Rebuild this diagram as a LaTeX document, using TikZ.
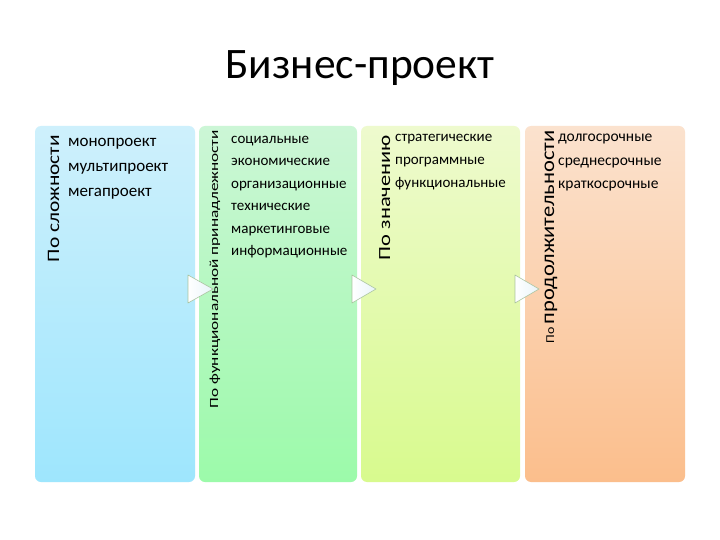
\documentclass[tikz,border=0pt]{standalone}
\usepackage{fontspec}
\setmainfont{Carlito}
\begin{document}
\begin{tikzpicture}[x=1pt,y=-1pt,
  panel/.style={rounded corners=6pt, draw=none},
  head/.style={rotate=90, anchor=base east, inner sep=0pt},
  item/.style={anchor=base west, inner sep=0pt},
  tri/.style={draw={rgb,255:red,170;green,196;blue,160}, left color=white, right color={rgb,255:red,232;green,244;blue,250}, line width=0.6pt, line join=round}]
\useasboundingbox (0,0) rectangle (720,540);
\fill[white] (0,0) rectangle (720,540);
\node[anchor=base, inner sep=0pt] (title) at (360,79) {\fontsize{43.5}{43.5}\selectfont Бизнес-проект};
% panels
\path[panel, top color={rgb,255:red,206;green,240;blue,252}, bottom color={rgb,255:red,158;green,230;blue,253}] (35,126) rectangle (195,482);
\path[panel, top color={rgb,255:red,204;green,246;blue,214}, bottom color={rgb,255:red,156;green,250;blue,170}] (199,126) rectangle (357,482);
\path[panel, top color={rgb,255:red,238;green,250;blue,206}, bottom color={rgb,255:red,216;green,250;blue,142}] (361,126) rectangle (520,482);
\path[panel, top color={rgb,255:red,251;green,226;blue,206}, bottom color={rgb,255:red,251;green,190;blue,140}] (525,126) rectangle (685,482);
% triangles
\path[tri] (188,275) -- (213,289) -- (188,303) -- cycle;
\path[tri] (352,275) -- (376,289) -- (352,303) -- cycle;
\path[tri] (515,275) -- (539,289) -- (515,303) -- cycle;
% headings
\node[head] (h1) at (59,135) {\fontsize{17.5}{17.5}\selectfont\resizebox{127pt}{\height}{По сложности}};
\node[head] (h2) at (218,130) {\fontsize{12.5}{12.5}\selectfont\resizebox{278pt}{\height}{По функциональной принадлежности}};
\node[head] (h3) at (390,135) {\fontsize{17}{17}\selectfont\resizebox{125pt}{\height}{По значению}};
\node[head] (h4) at (554,130) {\resizebox{213pt}{\height}{\fontsize{12}{12}\selectfont По \fontsize{19.5}{19.5}\selectfont продолжительности}};
% items
\begin{scope}[every node/.style={item, font=\fontsize{17}{17}\selectfont}]
\node (i1a) at (68,146.5) {монопроект};
\node (i1b) at (68,171.5) {мультипроект};
\node (i1c) at (68,196.5) {мегапроект};
\end{scope}
\begin{scope}[every node/.style={item, font=\fontsize{15}{15}\selectfont}]
\node (i2a) at (231,143.5) {социальные};
\node (i2b) at (231,165.8) {экономические};
\node (i2c) at (231,188.3) {организационные};
\node (i2d) at (231,210.8) {технические};
\node (i2e) at (231,233.3) {маркетинговые};
\node (i2f) at (231,255.8) {информационные};
\node (i3a) at (395,141.5) {стратегические};
\node (i3b) at (395,165) {программные};
\node (i3c) at (395,187.5) {функциональные};
\end{scope}
\begin{scope}[every node/.style={item, font=\fontsize{15.5}{15.5}\selectfont}]
\node (i4a) at (558,141.5) {долгосрочные};
\node (i4b) at (558,165.5) {среднесрочные};
\node (i4c) at (558,189) {краткосрочные};
\end{scope}
\end{tikzpicture}
\end{document}
